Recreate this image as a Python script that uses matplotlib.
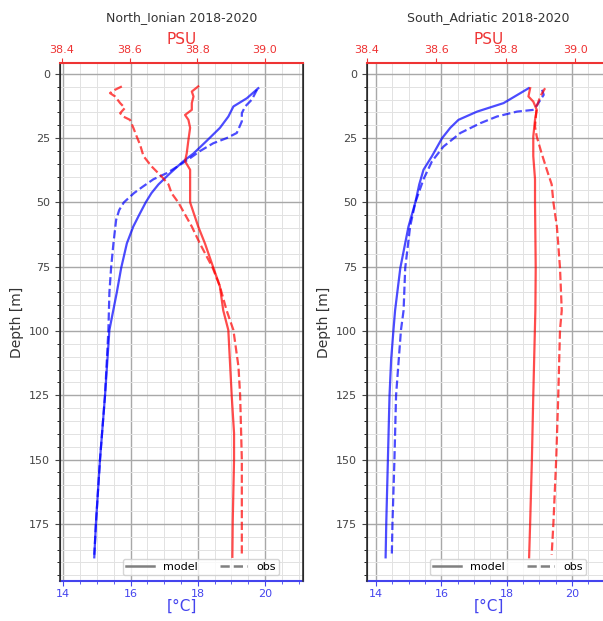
import numpy as np
import matplotlib
matplotlib.use("Agg")
from matplotlib import pyplot as plt
from matplotlib.lines import Line2D

# ---- North Ionian 2018-2020 ----
ni_temp_mod_depth = [5.6, 9.5, 12.7, 16.6, 21.0, 26.0, 31.0, 34.0, 38.6, 43.0, 46.4, 50.0, 55.0,
                     59.4, 65.9, 75.5, 85.0, 99.6, 125.0, 150.0, 174.6, 188.0]
ni_temp_mod = [19.80, 19.46, 19.06, 18.91, 18.66, 18.27, 17.87, 17.57, 17.18, 16.83, 16.62, 16.45, 16.25,
               16.08, 15.89, 15.72, 15.59, 15.37, 15.24, 15.09, 14.97, 14.92]

ni_temp_obs_depth = [6.2, 10.0, 12.7, 15.3, 18.5, 23.0, 25.0, 27.0, 30.0, 32.8, 35.4, 38.6, 41.0, 44.0,
                     46.4, 50.0, 53.0, 56.8, 65.9, 75.5, 85.0, 99.6, 124.9, 150.0, 174.6, 187.0]
ni_temp_obs = [19.76, 19.61, 19.41, 19.31, 19.31, 19.16, 18.86, 18.46, 18.07, 17.77, 17.47, 17.08, 16.68,
               16.35, 16.10, 15.80, 15.66, 15.57, 15.49, 15.42, 15.37, 15.34, 15.24, 15.09, 14.97, 14.92]

ni_psu_mod_depth = [4.9, 6.9, 8.8, 11.4, 14.0, 16.0, 17.9, 21.0, 25.7, 30.9, 34.0, 37.3, 45.0, 50.0,
                    59.4, 66.0, 75.5, 82.6, 92.0, 99.6, 125.0, 139.8, 150.0, 174.6, 187.8]
ni_psu_mod = [38.803, 38.784, 38.789, 38.784, 38.784, 38.764, 38.774, 38.779, 38.774, 38.769, 38.764,
              38.779, 38.779, 38.779, 38.803, 38.823, 38.848, 38.867, 38.877, 38.892, 38.902, 38.909,
              38.909, 38.905, 38.904]

ni_psu_obs_depth = [4.9, 6.2, 7.5, 8.8, 11.4, 13.3, 15.3, 16.6, 17.9, 21.0, 24.4, 27.6, 32.0, 36.0,
                    40.0, 43.0, 46.4, 50.0, 59.4, 66.0, 75.5, 82.6, 92.0, 99.6, 113.8, 125.0, 150.0,
                    174.6, 187.0]
ni_psu_obs = [38.577, 38.557, 38.542, 38.557, 38.572, 38.586, 38.572, 38.581, 38.601, 38.611, 38.621,
              38.631, 38.641, 38.665, 38.695, 38.715, 38.724, 38.744, 38.784, 38.808, 38.846, 38.867,
              38.887, 38.907, 38.922, 38.927, 38.932, 38.932, 38.932]

# ---- South Adriatic 2018-2020 ----
sa_temp_mod_depth = [5.6, 11.4, 14.7, 17.9, 21.0, 25.0, 32.0, 37.3, 43.0, 50.0, 59.4, 75.5, 92.0,
                     99.6, 111.0, 125.0, 150.0, 174.6, 188.0]
sa_temp_mod = [18.67, 17.90, 17.09, 16.52, 16.27, 16.02, 15.71, 15.45, 15.32, 15.20, 14.99, 14.74, 14.58,
               14.53, 14.46, 14.41, 14.36, 14.31, 14.29]

sa_temp_obs_depth = [6.2, 8.2, 10.1, 14.0, 14.7, 16.6, 19.2, 23.0, 28.3, 34.0, 41.0, 50.0, 59.4, 75.5,
                     92.0, 99.6, 125.0, 150.0, 174.6, 187.0]
sa_temp_obs = [19.08, 19.13, 19.03, 18.83, 18.31, 17.70, 17.19, 16.58, 16.06, 15.71, 15.45, 15.20, 15.04,
               14.89, 14.84, 14.76, 14.61, 14.56, 14.50, 14.48]

sa_psu_mod_depth = [5.6, 8.8, 10.8, 14.0, 17.9, 24.4, 32.0, 41.0, 50.0, 75.5, 92.0, 125.0, 150.0,
                    174.6, 188.0]
sa_psu_mod = [38.870, 38.865, 38.879, 38.889, 38.884, 38.879, 38.879, 38.884, 38.884, 38.886, 38.885,
              38.879, 38.875, 38.870, 38.867]

sa_psu_obs_depth = [5.6, 8.8, 12.7, 20.5, 24.4, 30.9, 37.3, 43.0, 50.0, 59.4, 75.5, 92.0, 99.6, 125.0,
                    150.0, 174.6, 187.0]
sa_psu_obs = [38.913, 38.899, 38.889, 38.884, 38.889, 38.903, 38.918, 38.932, 38.937, 38.947, 38.956,
              38.961, 38.956, 38.951, 38.945, 38.937, 38.932]

panels = [
    ("North_Ionian 2018-2020", 60,
     ni_temp_mod_depth, ni_temp_mod, ni_temp_obs_depth, ni_temp_obs,
     ni_psu_mod_depth, ni_psu_mod, ni_psu_obs_depth, ni_psu_obs,
     (13.9, 21.13), (38.394, 39.113)),
    ("South_Adriatic 2018-2020", 367,
     sa_temp_mod_depth, sa_temp_mod, sa_temp_obs_depth, sa_temp_obs,
     sa_psu_mod_depth, sa_psu_mod, sa_psu_obs_depth, sa_psu_obs,
     (13.72, 21.16), (38.40, 39.10)),
]

W, H = 603, 621
fig = plt.figure(figsize=(W / 100, H / 100), dpi=100)

tcol = '#4444ee'
scol = '#ee3333'

for (title, x0, tmd, tm, tod, to, smd, sm, sod, so, tlim, slim) in panels:
    ax = fig.add_axes([x0 / W, 40 / H, 243 / W, 518 / H])
    ax.plot(tm, tmd, color='blue', alpha=0.7, lw=1.6)
    ax.plot(to, tod, color='blue', alpha=0.7, lw=1.6, ls='--')
    ax.set_xlim(*tlim)
    ax.set_ylim(197.2, -4.2)
    ax.set_xticks([14, 16, 18, 20])
    ax.set_yticks(np.arange(0, 176, 25))
    ax.minorticks_on()
    ax.grid(which='major', color='#a8a8a8', lw=1.0)
    ax.grid(which='minor', color='#e2e2e2', lw=0.7)
    ax.set_axisbelow(True)
    ax.tick_params(axis='x', colors=tcol, labelsize=8, pad=2)
    ax.tick_params(axis='y', colors='#444444', labelsize=8)
    ax.tick_params(axis='x', which='minor', colors=tcol)
    ax.set_xlabel('[°C]', color=tcol, fontsize=11, labelpad=0)
    ax.set_ylabel('Depth [m]', color='#333333', fontsize=10)
    ax.spines['bottom'].set_color(tcol)
    ax.spines['bottom'].set_linewidth(1.5)
    ax.spines['top'].set_visible(False)

    axt = ax.twiny()
    axt.plot(sm, smd, color='red', alpha=0.7, lw=1.6)
    axt.plot(so, sod, color='red', alpha=0.7, lw=1.6, ls='--')
    axt.set_xlim(*slim)
    axt.set_xticks([38.4, 38.6, 38.8, 39.0])
    axt.set_xticklabels(['38.4', '38.6', '38.8', '39.0'])
    axt.tick_params(axis='x', colors=scol, labelsize=8, pad=2)
    axt.set_xlabel('PSU', color=scol, fontsize=11, labelpad=1)
    axt.spines['top'].set_color(scol)
    axt.spines['top'].set_linewidth(1.5)
    axt.spines['bottom'].set_visible(False)
    for s in ['left', 'right']:
        axt.spines[s].set_color('#333333')
        axt.spines[s].set_linewidth(1.2)

    handles = [Line2D([], [], color='grey', lw=1.8),
               Line2D([], [], color='grey', lw=1.8, ls='--')]
    axt.legend(handles, ['model', 'obs'], loc='lower center', bbox_to_anchor=(0.58, 0.0),
               ncol=2, fontsize=8, frameon=True, handlelength=2.5, columnspacing=2.0,
               borderpad=0.3)

    fig.text((x0 + 121.5) / W, 1 - 18 / H, title, ha='center', va='center',
             fontsize=9, color='#333333')

fig.savefig('out.png', dpi=100)
